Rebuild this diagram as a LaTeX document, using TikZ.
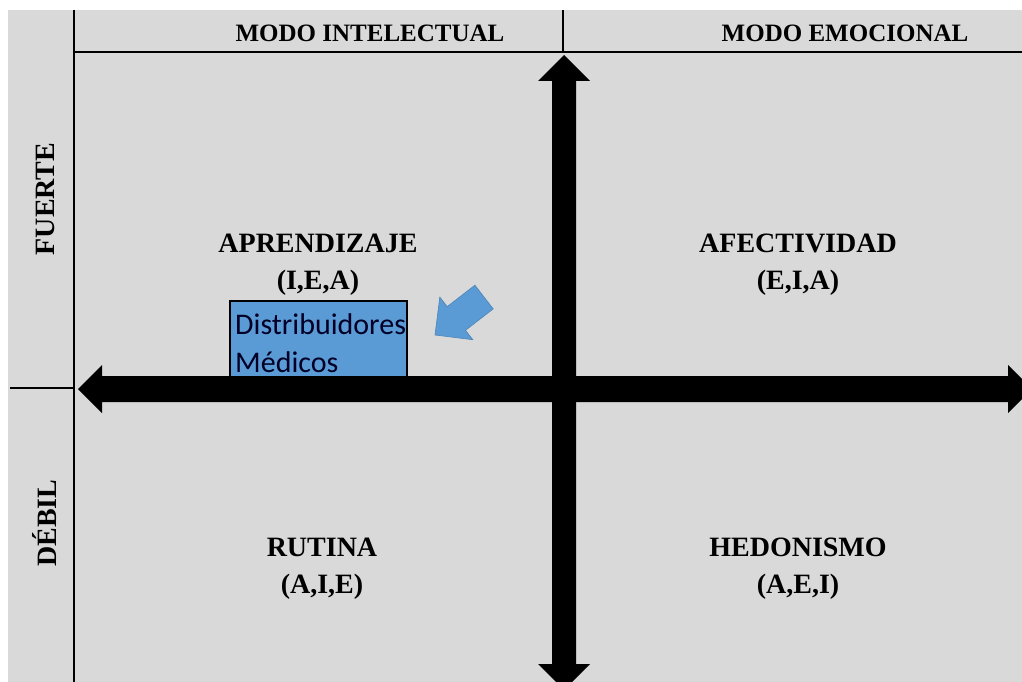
\documentclass[tikz,border=0pt]{standalone}
\usepackage{fontspec}
\setmainfont{Liberation Serif}
\newfontfamily\boxfont{Carlito}
\definecolor{bggrey}{HTML}{D9D9D9}
\definecolor{boxblue}{HTML}{5B9BD5}
\begin{document}
\begin{tikzpicture}[x=1pt,y=-1pt,
  thinrule/.style={line width=2pt,black},
  hdr/.style={font=\fontsize{25}{27}\selectfont\bfseries,inner sep=0pt},
  quad/.style={font=\fontsize{28}{30}\selectfont\bfseries,inner sep=0pt,align=center},
  side/.style={font=\fontsize{28}{30}\selectfont\bfseries,inner sep=0pt,rotate=90},
  boxtext/.style={font=\boxfont\fontsize{30}{38}\selectfont,anchor=base west,inner sep=0pt,text=black!85!blue},
  bigarrow/.style={fill=black},
  bluearrow/.style={fill=boxblue,draw=boxblue!85!black,line width=0.6pt,line join=miter}]
\useasboundingbox (0,0) rectangle (1022,682);
\clip (0,0) rectangle (1022,682);
\fill[white] (0,0) rectangle (1022,682);
\fill[bggrey] (8,10) rectangle (1022,682);
% rules
\coordinate (vtop) at (74,10);
\coordinate (vbot) at (74,682);
\coordinate (hl) at (74,52);
\coordinate (hr) at (1022,52);
\coordinate (dtop) at (563,10);
\coordinate (dbot) at (563,52);
\coordinate (sl) at (10,388);
\coordinate (sr) at (74,388);
\draw[thinrule] (vtop) -- (vbot);
\draw[thinrule,line width=2.5pt] (hl) -- (hr);
\draw[thinrule] (dtop) -- (dbot);
\draw[thinrule] (sl) -- (sr);
% headers
\node[hdr] (mi) at (370,33) {MODO INTELECTUAL};
\node[hdr] (me) at (845,33) {MODO EMOCIONAL};
\node[side] (fu) at (45,199) {FUERTE};
\node[side] (de) at (45,523) {DÉBIL};
% blue box
\node[draw=black,line width=2pt,fill=boxblue,minimum width=177pt,minimum height=80pt,inner sep=0pt] (box) at (318.5,341) {};
\node[boxtext] (l1) at (235,334) {Distribuidores};
\node[boxtext] (l2) at (235,372) {Médicos};
% big horizontal arrow
\fill[bigarrow] (78,389) -- (102,365) -- (102,376) -- (1008,376) -- (1008,365) -- (1032,389) -- (1008,413) -- (1008,402) -- (102,402) -- (102,413) -- cycle;
% big vertical arrow
\fill[bigarrow] (564,55) -- (590,81) -- (576,81) -- (576,664) -- (590,664) -- (564,690) -- (538,664) -- (552,664) -- (552,81) -- (538,81) -- cycle;
% quadrant labels
\node[quad] (apr) at (318,243) {APRENDIZAJE};
\node[quad] (apr2) at (318,283) {(I,E,A)};
\node[quad] (afe) at (798,243) {AFECTIVIDAD};
\node[quad] (afe2) at (798,283) {(E,I,A)};
\node[quad] (rut) at (322,547) {RUTINA};
\node[quad] (rut2) at (322,587) {(A,I,E)};
\node[quad] (hed) at (798,547) {HEDONISMO};
\node[quad] (hed2) at (798,587) {(A,E,I)};
% blue pointer arrow
\filldraw[bluearrow] (435,335) -- (439.8,297.1) -- (447.2,306.6) -- (474.9,285.2) -- (493.2,308.9) -- (465.5,330.3) -- (472.8,339.7) -- cycle;
\end{tikzpicture}
\end{document}
